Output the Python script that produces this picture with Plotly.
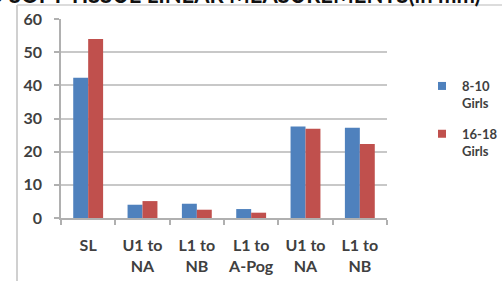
import plotly.graph_objects as go

categories = ["SL", "U1 to<br>NA", "L1 to<br>NB", "L1 to<br>A-Pog", "U1 to<br>NA", "L1 to<br>NB"]
girls_8_10 = [42.3, 4.0, 4.3, 2.7, 27.6, 27.2]
girls_16_18 = [54.0, 5.1, 2.5, 1.6, 26.9, 22.3]
series_names = ["8-10<br>Girls", "16-18<br>Girls"]
series_colors = ["#4F81BD", "#C0504D"]
y_ticks = [0, 10, 20, 30, 40, 50, 60]

W, H = 502, 281
L, R, T, B = 61, 115, 19, 63
pw, ph = W - L - R, H - T - B

def px_x(p):
    return (p - L) / pw

def px_y(p):
    return (H - B - p) / ph

xs = list(range(len(categories)))
FAM = "Lato, Carlito, sans-serif"
TXT = "#404040"

fig = go.Figure()
for vals, name, col in zip([girls_8_10, girls_16_18], series_names, series_colors):
    fig.add_bar(x=xs, y=vals, name=name, marker=dict(color=col, line=dict(width=0)), showlegend=False)
for i, (name, col) in enumerate(zip(series_names, series_colors)):
    fig.add_scatter(x=[None], y=[None], mode="markers", name=name, legendgroup=f"g{i}",
                    marker=dict(symbol="square", size=8, color=col))

fig.update_layout(
    template="none",
    width=W, height=H,
    margin=dict(l=L, r=R, t=T, b=B, pad=0, autoexpand=False),
    paper_bgcolor="white", plot_bgcolor="white",
    barmode="group", bargap=0.45, bargroupgap=0,
    font=dict(family=FAM, size=15, color=TXT),
    showlegend=True,
    legend=dict(x=px_x(422), y=px_y(71), xanchor="left", yanchor="top", valign="top",
                font=dict(family=FAM, size=13, color=TXT, weight="bold"),
                itemwidth=30, tracegroupgap=11, bgcolor="rgba(0,0,0,0)", borderwidth=0),
    xaxis=dict(range=[-0.5, len(categories) - 0.5], tickmode="array", tickvals=xs, ticktext=categories,
               ticks="", showgrid=False, showline=True, linecolor="#b0b0b0", linewidth=1.5,
               automargin=False, zeroline=False, ticklabelstandoff=12,
               tickfont=dict(family=FAM, size=16, color=TXT, weight="bold"),
               minor=dict(tickmode="linear", tick0=-0.5, dtick=1, ticks="outside", ticklen=5,
                          tickcolor="#b0b0b0", tickwidth=1.5, showgrid=False),
               fixedrange=True),
    yaxis=dict(range=[0, 60], tickmode="array", tickvals=y_ticks, showgrid=True, gridcolor="#c8c8c8",
               gridwidth=1.5, showline=True, linecolor="#b0b0b0", linewidth=1.5, ticks="outside",
               ticklen=5, tickcolor="#b0b0b0", tickwidth=1.5, zeroline=False, ticklabelstandoff=9,
               automargin=False, fixedrange=True,
               tickfont=dict(family=FAM, size=16, color=TXT, weight="bold")),
    shapes=[
        dict(type="line", xref="paper", yref="paper", x0=px_x(17), x1=px_x(17), y0=px_y(5), y1=px_y(281),
             line=dict(color="#c0c0c0", width=1.5)),
        dict(type="line", xref="paper", yref="paper", x0=px_x(17), x1=px_x(502), y0=px_y(5), y1=px_y(5),
             line=dict(color="#d0d0d0", width=1.5)),
    ],
    annotations=[
        dict(text="HARD AND SOFT TISSUE LINEAR MEASUREMENTS(in mm)", xref="paper", yref="paper",
             x=px_x(482), y=px_y(10), xanchor="right", yanchor="bottom", showarrow=False,
             font=dict(family=FAM, size=22, color="#111111", weight="bold")),
    ],
)

fig.write_html("out.html", config={"displayModeBar": False},
               post_script="document.body.style.margin='0';document.body.style.overflow='hidden';")
